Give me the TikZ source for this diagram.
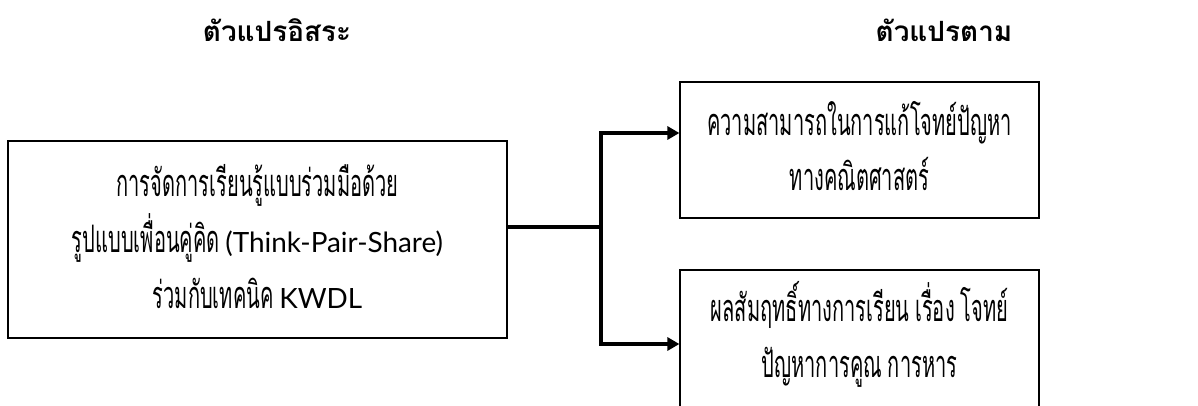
\documentclass[tikz,border=0pt]{standalone}
\usepackage{fontspec}
\newfontfamily\thai[Script=Thai,FakeStretch=0.53,WordSpace=0.85]{Loma}
\newfontfamily\thaititle[Script=Thai]{Loma}
\newfontfamily\lat{Lato}
\usetikzlibrary{arrows.meta}
\tikzset{
  box/.style={draw=black, line width=1.2bp, inner sep=0pt},
  txt/.style={inner sep=0pt, align=center, font={\thai\fontsize{38}{56}\selectfont}},
  conn/.style={draw=black, line width=3.2bp},
  arr/.style={conn, -{Triangle[length=12bp,width=13bp]}},
  title/.style={font={\thaititle\bfseries\fontsize{28}{32}\selectfont}}
}
\newcommand{\latin}[1]{{\lat\fontsize{28}{56}\selectfont #1}}
\begin{document}
\begin{tikzpicture}[x=1bp,y=-1bp]
\clip (0,0) rectangle (1198,405);
\fill[white] (0,0) rectangle (1198,405);
\node[title] (t1) at (277,30) {ตัวแปรอิสระ};
\node[title] (t2) at (944,30) {ตัวแปรตาม};
\node[box, minimum width=499bp, minimum height=197bp] (left) at (257.5,239.5) {};
\node[box, minimum width=359bp, minimum height=136bp] (top) at (859.5,150) {};
\node[box, minimum width=359bp, minimum height=137bp] (bot) at (859.5,338.5) {};
\node[txt] (lefttext) at ([yshift=3bp]left.center)
  {การจัดการเรียนรู้แบบร่วมมือด้วย\\รูปแบบเพื่อนคู่คิด \latin{(Think-Pair-Share)}\\ร่วมกับเทคนิค \latin{KWDL}};
\node[txt] (toptext) at ([yshift=4bp]top.center)
  {ความสามารถในการแก้โจทย์ปัญหา\\ทางคณิตศาสตร์};
\node[txt] (bottext) at ([yshift=4bp]bot.center)
  {ผลสัมฤทธิ์ทางการเรียน เรื่อง โจทย์\\ปัญหาการคูณ การหาร};
\coordinate (j) at (601,227);
\coordinate (ja) at (601,133);
\coordinate (jb) at (601,344);
\draw[conn] (left.east |- j) -- (j);
\draw[arr] (j) -- (ja) -- (top.west |- ja);
\draw[arr] (j) -- (jb) -- (bot.west |- jb);
\end{tikzpicture}
\end{document}
